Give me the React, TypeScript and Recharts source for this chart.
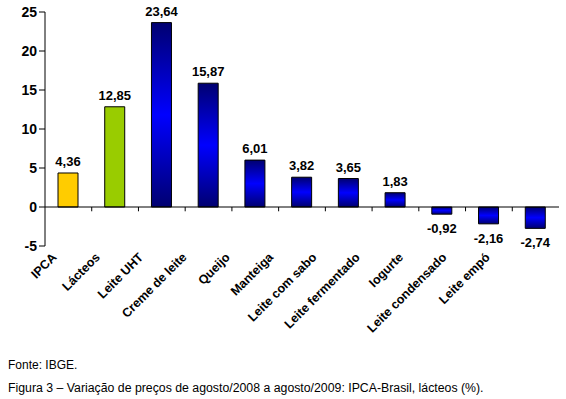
import React from "react";
import { BarChart, Bar, XAxis, YAxis, Cell, LabelList, ReferenceLine } from "recharts";

const categories = [
  "IPCA",
  "Lácteos",
  "Leite UHT",
  "Creme de leite",
  "Queijo",
  "Manteiga",
  "Leite com sabo",
  "Leite fermentado",
  "Iogurte",
  "Leite condensado",
  "Leite empó",
];
const values = [4.36, 12.85, 23.64, 15.87, 6.01, 3.82, 3.65, 1.83, -0.92, -2.16, -2.74];
const fills = [
  "#FFCC00",
  "#99CC00",
  "url(#blueGrad)",
  "url(#blueGrad)",
  "url(#blueGrad)",
  "url(#blueGrad)",
  "url(#blueGrad)",
  "url(#blueGrad)",
  "url(#blueGrad)",
  "url(#blueGrad)",
  "url(#blueGrad)",
];
const yTicks = [-5, 0, 5, 10, 15, 20, 25];
const boundaries = [1, 2, 3, 4, 5, 6, 7, 8, 9, 10];

const data = categories.map((c, i) => ({ name: c, value: values[i], idx: i + 0.5 }));

const FONT = "'Liberation Sans', Arial, sans-serif";

const fmt = (v: number) => v.toFixed(2).replace(".", ",");

const ValueLabel = (props: any) => {
  const { x, y, width, height, value } = props;
  const top = Math.min(y, y + height);
  const bottom = Math.max(y, y + height);
  const cx = x + width / 2;
  if (value >= 0) {
    return (
      <text x={cx} y={top - 7} textAnchor="middle" fontFamily={FONT} fontWeight="bold" fontSize={13} fill="#000">
        {fmt(value)}
      </text>
    );
  }
  return (
    <text x={cx} y={bottom + 19} textAnchor="middle" fontFamily={FONT} fontWeight="bold" fontSize={13} fill="#000">
      {fmt(value)}
    </text>
  );
};

const XTick = (props: any) => {
  const { x, y, payload, index } = props;
  const tx = x - 11 - 3.4 * index;
  const ty = y + 4;
  return (
    <text
      x={tx}
      y={ty}
      textAnchor="end"
      fontFamily={FONT}
      fontWeight="bold"
      fontSize={12.5}
      fill="#000"
      transform={`rotate(-45, ${tx}, ${ty})`}
    >
      {payload.value}
    </text>
  );
};

export default function App() {
  return (
    <div style={{ position: "absolute", left: 0, top: 0, width: 566, height: 399, background: "#fff" }}>
      <BarChart
        width={566}
        height={340}
        data={data}
        margin={{ top: 12, right: 7, left: 0, bottom: 0 }}
        barSize={20}
      >
        <defs>
          <linearGradient id="blueGrad" x1="0" y1="0" x2="0" y2="1">
            <stop offset="0%" stopColor="#000070" />
            <stop offset="50%" stopColor="#0000FF" />
            <stop offset="100%" stopColor="#000070" />
          </linearGradient>
        </defs>
        <XAxis
          xAxisId="cat"
          dataKey="name"
          type="category"
          interval={0}
          height={94}
          axisLine={false}
          tickLine={false}
          tick={<XTick />}
        />
        <XAxis xAxisId="num" type="number" dataKey="idx" domain={[0, 11]} hide />
        <YAxis
          width={45}
          domain={[-5, 25]}
          ticks={yTicks}
          interval={0}
          axisLine={{ stroke: "#000", strokeWidth: 1 }}
          tickLine={{ stroke: "#000" }}
          tickSize={6}
          tickMargin={2}
          tick={{ fill: "#000", fontFamily: FONT, fontWeight: "bold", fontSize: 14 }}
        />
        <ReferenceLine xAxisId="num" y={0} stroke="#000" strokeWidth={1} />
        {boundaries.map((b) => (
          <ReferenceLine
            key={b}
            xAxisId="num"
            segment={[
              { x: b, y: 0 },
              { x: b, y: -0.55 },
            ]}
            stroke="#000"
            strokeWidth={1}
          />
        ))}
        <Bar xAxisId="cat" dataKey="value" stroke="#000" strokeWidth={1} isAnimationActive={false}>
          {data.map((d, i) => (
            <Cell key={d.name} fill={fills[i]} />
          ))}
          <LabelList dataKey="value" content={<ValueLabel />} />
        </Bar>
      </BarChart>
      <div style={{ position: "absolute", left: 8, top: 358, fontFamily: FONT, fontSize: 12, color: "#000", whiteSpace: "nowrap" }}>
        Fonte: IBGE.
      </div>
      <div style={{ position: "absolute", left: 8, top: 381, fontFamily: FONT, fontSize: 12.3, color: "#000", whiteSpace: "nowrap" }}>
        Figura 3 – Variação de preços de agosto/2008 a agosto/2009: IPCA-Brasil, lácteos (%).
      </div>
    </div>
  );
}
